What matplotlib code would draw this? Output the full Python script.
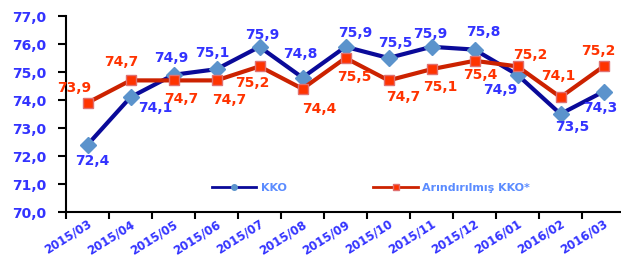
# -*- coding: utf-8 -*-
import numpy as np
from matplotlib import pyplot as plt

# veriler
aylar = ['2015/03', '2015/04', '2015/05', '2015/06', '2015/07', '2015/08', '2015/09',
         '2015/10', '2015/11', '2015/12', '2016/01', '2016/02', '2016/03']
kko = [72.4, 74.1, 74.9, 75.1, 75.9, 74.8, 75.9, 75.5, 75.9, 75.8, 74.9, 73.5, 74.3]
arind = [73.9, 74.7, 74.7, 74.7, 75.2, 74.4, 75.5, 74.7, 75.1, 75.4, 75.2, 74.1, 75.2]

# etiket kaymalari (piksel)
kko_off = [(5, -16), (25, -11), (-2, 17), (-4, 16), (3, 12), (-2, 24), (10, 14),
           (7, 15), (-1, 13), (9, 18), (-17, -15), (12, -13), (-3, -16)]
ark_off = [(-13, 15), (-9, 18), (8, -19), (13, -20), (-7, -17), (17, -20), (9, -19),
           (15, -17), (9, -18), (6, -14), (13, 11), (-2, 21), (-5, 15)]

plt.rcParams['font.family'] = ['DejaVu Sans']
mavi = '#3333FF'
kirmizi = '#FF3300'

fig = plt.figure(figsize=(6.21, 2.57), dpi=100)
ax = fig.add_axes([66 / 621, 45 / 257, 559 / 621, 196 / 257])

x = np.arange(len(aylar))
ax.plot(x, kko, color='#0A0A99', linewidth=3, marker='D', markersize=8,
        markerfacecolor='#5B93CC', markeredgecolor='#5B93CC', zorder=3, label='KKO')
ax.plot(x, arind, color='#CC2200', linewidth=3, marker='s', markersize=7.5,
        markerfacecolor='#FF3300', markeredgecolor='#E07070', zorder=4,
        label='Arındırılmış KKO*')

px = 0.72  # piksel -> punto
for i in range(len(x)):
    ax.annotate(('%.1f' % kko[i]).replace('.', ','), (x[i], kko[i]),
                xytext=(kko_off[i][0] * px, kko_off[i][1] * px), textcoords='offset points',
                ha='center', va='center', color=mavi, fontsize=10, fontweight='bold', zorder=5)
    ax.annotate(('%.1f' % arind[i]).replace('.', ','), (x[i], arind[i]),
                xytext=(ark_off[i][0] * px, ark_off[i][1] * px), textcoords='offset points',
                ha='center', va='center', color=kirmizi, fontsize=10, fontweight='bold', zorder=5)

ax.set_xlim(-0.5, len(aylar) - 0.5)
ax.set_ylim(70, 77)
ax.set_yticks(np.arange(70, 78, 1))
ax.set_yticklabels([('%.1f' % v).replace('.', ',') for v in np.arange(70, 78, 1)],
                   color=mavi, fontweight='bold', fontsize=10)
ax.set_xticks(np.arange(-0.5, len(aylar), 1))
ax.set_xticklabels([])
ax.set_xticks(x, minor=True)
ax.set_xticklabels(aylar, minor=True, rotation=32, ha='right', va='top',
                   rotation_mode='anchor', color=mavi, fontweight='bold', fontsize=8.5)
ax.tick_params(axis='x', which='minor', length=0, pad=4)
ax.tick_params(axis='x', which='major', length=5, width=1.5, direction='out')
ax.tick_params(axis='y', length=6, width=1.5, direction='out', pad=8)

for s in ['top', 'right']:
    ax.spines[s].set_visible(False)
ax.spines['left'].set_linewidth(1.5)
ax.spines['bottom'].set_linewidth(1.5)

h1 = plt.Line2D([], [], color='#0A0A99', linewidth=2, marker='o', markersize=4,
                markerfacecolor='#5B93CC', markeredgecolor='#5B93CC')
h2 = plt.Line2D([], [], color='#CC2200', linewidth=2, marker='s', markersize=4,
                markerfacecolor='#FF3300', markeredgecolor='#E07070')
leg = ax.legend([h1, h2], ['KKO', 'Arındırılmış KKO*'], ncol=2, frameon=False,
                loc='center left', bbox_to_anchor=(212 / 621, 1 - 188 / 257),
                bbox_transform=fig.transFigure, borderaxespad=0, borderpad=0,
                handlelength=4.0, handletextpad=0.4, columnspacing=7.8,
                prop={'weight': 'bold', 'size': 8})
for t in leg.get_texts():
    t.set_color('#5B8CFF')

plt.savefig('out.png', dpi=100)
